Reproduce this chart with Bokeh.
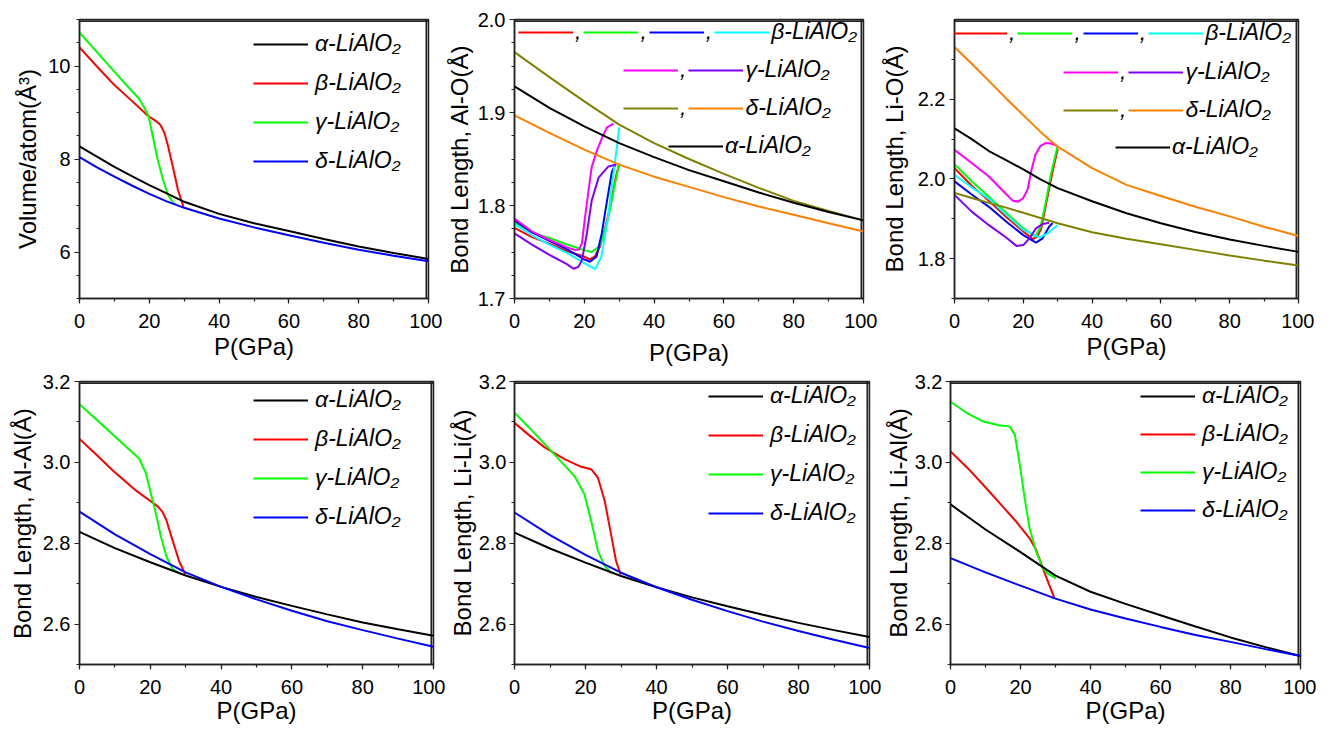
from bokeh.plotting import figure
from bokeh.models import (Range1d, SingleIntervalTicker, NumeralTickFormatter, Legend,
                          LegendItem)
from bokeh.layouts import column, row
from bokeh.embed import file_html
from bokeh.resources import INLINE

FONT = "Liberation Sans"

# ---------------- data ----------------
lbl_alpha = "α-LiAlO₂"
lbl_beta = "β-LiAlO₂"
lbl_gamma = "γ-LiAlO₂"
lbl_delta = "δ-LiAlO₂"

# Panel 1: Volume/atom
vol_P = [0, 5, 10, 15, 20, 25, 30, 40, 50, 60, 70, 80, 90, 100]
vol_alpha = [8.27, 8.05, 7.83, 7.63, 7.44, 7.26, 7.08, 6.82, 6.62, 6.45, 6.28, 6.12, 5.98, 5.85]
vol_delta = [8.04, 7.82, 7.62, 7.43, 7.25, 7.09, 6.95, 6.72, 6.53, 6.36, 6.20, 6.05, 5.92, 5.80]
vol_beta_P = [0, 5, 10, 15, 19.6, 22, 23.2, 24.3, 25.3, 26.7, 28.2, 29.8]
vol_beta = [10.40, 9.99, 9.59, 9.25, 8.93, 8.81, 8.73, 8.57, 8.30, 7.85, 7.34, 6.97]
vol_gamma_P = [0, 5, 10, 14.3, 17, 18.6, 19.8, 21, 22.4, 23.9, 25.3, 26.7, 27.5]
vol_gamma = [10.72, 10.30, 9.88, 9.52, 9.30, 9.10, 8.92, 8.49, 7.99, 7.56, 7.24, 7.07, 7.03]

# Panel 2: Al-O
alo_P = [0, 10, 20, 30, 40, 50, 60, 70, 80, 90, 100]
alo_alpha = [1.928, 1.905, 1.885, 1.867, 1.852, 1.838, 1.826, 1.814, 1.803, 1.793, 1.784]
alo_delta1 = [1.965, 1.938, 1.912, 1.887, 1.867, 1.850, 1.834, 1.819, 1.805, 1.794, 1.784]
alo_delta2 = [1.897, 1.878, 1.860, 1.844, 1.831, 1.820, 1.809, 1.799, 1.790, 1.781, 1.772]
alo_b1_P = [0, 5, 10, 15, 20, 21.6, 23, 24.5, 26, 27.5, 29, 30]
alo_b1 = [1.776, 1.766, 1.759, 1.751, 1.745, 1.742, 1.745, 1.756, 1.776, 1.800, 1.830, 1.845]
alo_b2_P = [0, 5, 10, 15, 20, 22.1, 24, 25, 26.9, 28.8, 30]
alo_b2 = [1.782, 1.771, 1.765, 1.758, 1.752, 1.750, 1.755, 1.762, 1.787, 1.823, 1.845]
alo_b3_P = [0, 5, 10, 15, 20, 21.6, 23.5, 25, 26.5, 27.9, 28.8]
alo_b3 = [1.784, 1.771, 1.762, 1.753, 1.742, 1.7395, 1.745, 1.770, 1.805, 1.836, 1.843]
alo_b4_P = [0, 5, 10, 15, 20, 23.1, 24.9, 26.8, 28.2, 29.2, 30]
alo_b4 = [1.780, 1.768, 1.758, 1.749, 1.738, 1.7316, 1.745, 1.787, 1.830, 1.859, 1.884]
alo_g1_P = [0, 5, 10, 15, 17.5, 18.5, 19.3, 20.2, 21.2, 22.1, 23.6, 25, 26.5, 28.4]
alo_g1 = [1.786, 1.772, 1.763, 1.755, 1.752, 1.753, 1.759, 1.787, 1.816, 1.841, 1.859, 1.872, 1.884, 1.888]
alo_g2_P = [0, 5, 10, 15, 16.9, 18.3, 19.3, 20.7, 22.1, 24.1, 26.9, 29.2]
alo_g2 = [1.770, 1.758, 1.747, 1.737, 1.732, 1.734, 1.741, 1.769, 1.805, 1.830, 1.842, 1.844]

# Panel 3: Li-O
lio_P = [0, 5, 10, 15, 20, 25, 30, 40, 50, 60, 70, 80, 90, 100]
lio_alpha = [2.127, 2.100, 2.070, 2.047, 2.024, 1.999, 1.977, 1.944, 1.914, 1.889, 1.867, 1.848, 1.832, 1.817]
lio_delta1 = [1.965, 1.952, 1.940, 1.928, 1.915, 1.902, 1.889, 1.866, 1.850, 1.836, 1.822, 1.808, 1.795, 1.783]
lio_delta2 = [2.331, 2.289, 2.246, 2.202, 2.160, 2.118, 2.081, 2.027, 1.985, 1.957, 1.930, 1.906, 1.880, 1.857]
lio_b1_P = [0, 5, 10, 15, 20, 22.8, 24, 25.2, 26.8, 28.3, 30]
lio_b1 = [2.027, 1.983, 1.945, 1.905, 1.868, 1.849, 1.855, 1.875, 1.945, 2.010, 2.075]
lio_b2_P = [0, 5, 10, 15, 20, 23.5, 25, 26.5, 28, 29.9]
lio_b2 = [2.037, 1.994, 1.955, 1.915, 1.876, 1.855, 1.880, 1.940, 2.010, 2.080]
lio_b3_P = [0, 5, 10, 15, 20, 23.7, 25.6, 27.5, 28.5]
lio_b3 = [1.994, 1.961, 1.930, 1.893, 1.859, 1.840, 1.851, 1.880, 1.889]
lio_b4_P = [0, 5, 10, 15, 20, 24.8, 27.5, 29.9]
lio_b4 = [2.010, 1.979, 1.950, 1.910, 1.872, 1.853, 1.866, 1.884]
lio_g1_P = [0, 5, 10, 15, 17, 18.5, 20, 21.3, 22.3, 23.5, 25, 26.5, 28, 29.8]
lio_g1 = [2.073, 2.040, 2.006, 1.962, 1.945, 1.943, 1.952, 1.975, 2.020, 2.060, 2.083, 2.090, 2.089, 2.083]
lio_g2_P = [0, 5, 10, 15, 18, 20, 21.8, 23.7, 25.6, 27.5]
lio_g2 = [1.960, 1.918, 1.884, 1.853, 1.832, 1.834, 1.851, 1.876, 1.887, 1.890]

# Panel 4: Al-Al
alal_P = [0, 10, 20, 30, 40, 50, 60, 70, 80, 90, 100]
alal_alpha = [2.828, 2.788, 2.753, 2.720, 2.692, 2.667, 2.645, 2.624, 2.604, 2.587, 2.571]
alal_delta = [2.878, 2.822, 2.773, 2.728, 2.692, 2.661, 2.633, 2.607, 2.585, 2.564, 2.544]
alal_beta_P = [0, 5, 9.4, 16, 22.1, 23.4, 24.5, 26.3, 28.2, 29.9]
alal_beta = [3.058, 3.017, 2.980, 2.930, 2.891, 2.878, 2.858, 2.807, 2.754, 2.724]
alal_gamma_P = [0, 5, 9.4, 16.9, 18.8, 20.2, 21.6, 23, 24.6, 26.3, 27.8]
alal_gamma = [3.144, 3.104, 3.069, 3.009, 2.972, 2.922, 2.873, 2.816, 2.766, 2.737, 2.727]

# Panel 5: Li-Li
lili_P = [0, 10, 20, 30, 40, 50, 60, 70, 80, 90, 100]
lili_alpha = [2.826, 2.787, 2.752, 2.719, 2.691, 2.666, 2.644, 2.623, 2.603, 2.585, 2.568]
lili_delta = [2.876, 2.820, 2.771, 2.727, 2.691, 2.660, 2.632, 2.606, 2.583, 2.561, 2.541]
lili_beta_P = [0, 4, 8.5, 14.1, 18.8, 21.6, 23.5, 25.4, 27.2, 28.6, 29.9]
lili_beta = [3.098, 3.068, 3.037, 3.008, 2.989, 2.983, 2.962, 2.905, 2.822, 2.756, 2.723]
lili_gamma_P = [0, 4, 9.4, 16.9, 19.7, 21.6, 23.5, 25.4, 27.2]
lili_gamma = [3.123, 3.087, 3.037, 2.966, 2.921, 2.855, 2.781, 2.744, 2.727]

# Panel 6: Li-Al
lial_P = [0, 10, 20, 30, 40, 50, 60, 70, 80, 90, 100]
lial_alpha = [2.896, 2.834, 2.778, 2.720, 2.680, 2.650, 2.622, 2.594, 2.567, 2.543, 2.521]
lial_delta = [2.763, 2.728, 2.695, 2.663, 2.636, 2.614, 2.593, 2.573, 2.556, 2.538, 2.521]
lial_beta_P = [0, 5, 9.4, 15, 18.8, 22.6, 24.5, 26.4, 28.2, 29.7]
lial_beta = [3.027, 2.985, 2.944, 2.890, 2.853, 2.812, 2.783, 2.738, 2.697, 2.664]
lial_gamma_P = [0, 4.7, 9.4, 14.1, 16.9, 18.4, 19.8, 21.2, 22.6, 24.5, 26.4, 27.8, 30.1]
lial_gamma = [3.150, 3.122, 3.101, 3.091, 3.089, 3.068, 2.994, 2.911, 2.837, 2.779, 2.738, 2.725, 2.713]

# ---------------- styling ----------------
BLACK = "#000000"
RED = "#FF0000"
GREEN = "#00FF00"
BLUE = "#0000FF"
CYAN = "#00FFFF"
MAGENTA = "#FF00FF"
PURPLE = "#8000FF"
OLIVE = "#808000"
ORANGE = "#FF8000"
FRAME = "#222222"
LW = 2
X_RANGE = (0, 100)
EDGE_INSET = 0.006   # fraction of a range: keeps the frame-edge lines inside the clip


def make_fig(width, height, left, right, top, bottom, yr, yint, yminor, yfmt, ylabel,
             xstand=2, xmaj=10, ystand=4, ymaj=4):
    p = figure(width=width, height=height, x_range=Range1d(*X_RANGE), y_range=Range1d(*yr),
               output_backend="svg", toolbar_location=None,
               min_border_left=left, min_border_right=right,
               min_border_top=top, min_border_bottom=bottom)
    p.xgrid.visible = False
    p.ygrid.visible = False
    p.outline_line_color = FRAME
    p.outline_line_width = 1.5
    p.background_fill_color = "white"
    p.border_fill_color = "white"
    p.xaxis.ticker = SingleIntervalTicker(interval=20, num_minor_ticks=2)
    p.yaxis.ticker = SingleIntervalTicker(interval=yint, num_minor_ticks=yminor)
    p.yaxis.formatter = NumeralTickFormatter(format=yfmt)
    p.xaxis.formatter = NumeralTickFormatter(format="0")
    for ax in (p.xaxis, p.yaxis):
        ax.axis_line_color = FRAME
        ax.axis_line_width = 1.5
        ax.major_tick_line_color = FRAME
        ax.minor_tick_line_color = FRAME
        ax.major_tick_line_width = 1.2
        ax.minor_tick_line_width = 1.2
        ax.major_tick_out = 5
        ax.major_tick_in = 0
        ax.minor_tick_out = 3
        ax.minor_tick_in = 0
        ax.major_label_text_font = FONT
        ax.major_label_text_font_size = "20px"
        ax.major_label_text_color = "black"
        ax.axis_label_text_font = FONT
        ax.axis_label_text_font_size = "24px"
        ax.axis_label_text_font_style = "normal"
        ax.axis_label_text_color = "black"
    p.xaxis.axis_label = "P(GPa)"
    p.xaxis.major_label_standoff = xmaj
    p.xaxis.axis_label_standoff = xstand
    p.yaxis.axis_label = ylabel
    p.yaxis.major_label_standoff = ymaj
    p.yaxis.axis_label_standoff = ystand
    # right and top frame edges, derived from the ranges, just inside the plot area
    xe = X_RANGE[1] - (X_RANGE[1] - X_RANGE[0]) * EDGE_INSET
    ye = yr[1] - (yr[1] - yr[0]) * EDGE_INSET
    p.line([xe, xe], [yr[0], yr[1]], color=FRAME, line_width=1.8)
    p.line([X_RANGE[0], X_RANGE[1]], [ye, ye], color=FRAME, line_width=1.8)
    return p


def add_legend(p, items, loc, orientation="vertical", glyph_width=55, spacing=12, standoff=7):
    lg = Legend(items=items, location=loc, orientation=orientation, padding=0, margin=0,
                spacing=spacing, label_standoff=standoff, glyph_width=glyph_width,
                glyph_height=26, label_height=26, label_width=4,
                border_line_color=None, background_fill_alpha=0,
                label_text_font=FONT, label_text_font_style="italic",
                label_text_font_size="23px", label_text_color="black")
    p.add_layout(lg)


def four_phase(p, P, alpha, delta, bP, beta, gP, gamma, loc, spacing):
    rb = p.line(bP, beta, color=RED, line_width=LW)
    rg = p.line(gP, gamma, color=GREEN, line_width=LW)
    ra = p.line(P, alpha, color=BLACK, line_width=LW)
    rd = p.line(P, delta, color=BLUE, line_width=LW)
    add_legend(p, [LegendItem(label=lbl_alpha, renderers=[ra]),
                   LegendItem(label=lbl_beta, renderers=[rb]),
                   LegendItem(label=lbl_gamma, renderers=[rg]),
                   LegendItem(label=lbl_delta, renderers=[rd])], loc, spacing=spacing)


def multi_bond(p, P, alpha, d1, d2, b, g, rows):
    rs_b = [p.line(x, y, color=c, line_width=LW) for (x, y), c in zip(b, [RED, GREEN, BLUE, CYAN])]
    rs_g = [p.line(x, y, color=c, line_width=LW) for (x, y), c in zip(g, [MAGENTA, PURPLE])]
    r_d1 = p.line(P, d1, color=OLIVE, line_width=LW)
    r_d2 = p.line(P, d2, color=ORANGE, line_width=LW)
    r_a = p.line(P, alpha, color=BLACK, line_width=LW)
    kw = dict(orientation="horizontal", glyph_width=55, spacing=2, standoff=2)
    add_legend(p, [LegendItem(label=",", renderers=[rs_b[0]]),
                   LegendItem(label=",", renderers=[rs_b[1]]),
                   LegendItem(label=",", renderers=[rs_b[2]]),
                   LegendItem(label=lbl_beta, renderers=[rs_b[3]])], rows[0], **kw)
    add_legend(p, [LegendItem(label=",", renderers=[rs_g[0]]),
                   LegendItem(label=lbl_gamma, renderers=[rs_g[1]])], rows[1], **kw)
    add_legend(p, [LegendItem(label=",", renderers=[r_d1]),
                   LegendItem(label=lbl_delta, renderers=[r_d2])], rows[2], **kw)
    add_legend(p, [LegendItem(label=lbl_alpha, renderers=[r_a])], rows[3], **kw)


# top row (height 371: top 19, frame 279, bottom 73)
p1 = make_fig(442, 371, 79, 14, 19, 73, (5, 11), 2, 4, "0", "Volume/atom(Å³)",
              xstand=2, ystand=4)
four_phase(p1, vol_P, vol_alpha, vol_delta, vol_beta_P, vol_beta, vol_gamma_P, vol_gamma,
           (174, 124), 12)

p2 = make_fig(435, 371, 72, 14, 19, 73, (1.7, 2.0), 0.1, 4, "0.0", "Bond Length, Al-O(Å)",
              xstand=8, ystand=2)
multi_bond(p2, alo_P, alo_alpha, alo_delta1, alo_delta2,
           [(alo_b1_P, alo_b1), (alo_b2_P, alo_b2), (alo_b3_P, alo_b3), (alo_b4_P, alo_b4)],
           [(alo_g1_P, alo_g1), (alo_g2_P, alo_g2)],
           [(4, 253), (109, 215), (109, 177), (154, 139)])

p3 = make_fig(437, 371, 77, 16, 19, 73, (1.7, 2.4), 0.2, 2, "0.0", "Bond Length, Li-O(Å)",
              xstand=2, ystand=7)
multi_bond(p3, lio_P, lio_alpha, lio_delta1, lio_delta2,
           [(lio_b1_P, lio_b1), (lio_b2_P, lio_b2), (lio_b3_P, lio_b3), (lio_b4_P, lio_b4)],
           [(lio_g1_P, lio_g1), (lio_g2_P, lio_g2)],
           [(-2, 252), (109, 213), (109, 175), (161, 138)])

# bottom row (height 358: top 10, frame 283, bottom 65)
p4 = make_fig(445, 358, 79, 12, 10, 65, (2.5, 3.2), 0.2, 2, "0.0", "Bond Length, Al-Al(Å)",
              xstand=0, ystand=4)
four_phase(p4, alal_P, alal_alpha, alal_delta, alal_beta_P, alal_beta, alal_gamma_P, alal_gamma,
           (174, 134), 12)

p5 = make_fig(436, 358, 69, 12, 10, 65, (2.5, 3.2), 0.2, 2, "0.0", "Bond Length, Li-Li(Å)",
              xstand=0, ystand=0, ymaj=3)
four_phase(p5, lili_P, lili_alpha, lili_delta, lili_beta_P, lili_beta, lili_gamma_P, lili_gamma,
           (194, 138), 12)

p6 = make_fig(435, 358, 69, 16, 10, 65, (2.5, 3.2), 0.2, 2, "0.0", "Bond Length, Li-Al(Å)",
              xstand=0, ystand=0, ymaj=3)
four_phase(p6, lial_P, lial_alpha, lial_delta, lial_beta_P, lial_beta, lial_gamma_P, lial_gamma,
           (190, 141), 11)

layout = column(row(p1, p2, p3), row(p4, p5, p6))
open("out.html", "w").write(file_html(layout, INLINE))
